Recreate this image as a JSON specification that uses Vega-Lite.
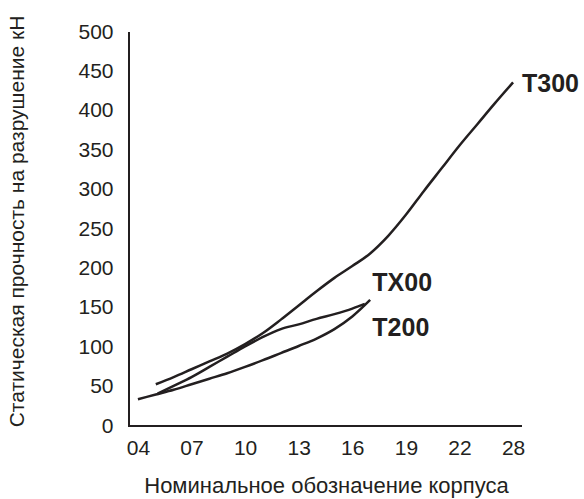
{
  "$schema": "https://vega.github.io/schema/vega-lite/v6.json",
  "autosize": {"type": "none"},
  "padding": {"left": 129, "top": 32, "right": 62, "bottom": 73},
  "width": 393,
  "height": 394,
  "background": "white",
  "config": {
    "view": {"stroke": null},
    "font": "Liberation Sans"
  },
  "datasets": {
    "lines": [
      {"series": "frame", "x": 3.5, "y": 500, "o": 1},
      {"series": "frame", "x": 3.5, "y": 0, "o": 2},
      {"series": "frame", "x": 25.5, "y": 0, "o": 3},
      {"series": "T300", "x": 5, "y": 53, "o": 1},
      {"series": "T300", "x": 6, "y": 62, "o": 2},
      {"series": "T300", "x": 7, "y": 72, "o": 3},
      {"series": "T300", "x": 8, "y": 82, "o": 4},
      {"series": "T300", "x": 9, "y": 92, "o": 5},
      {"series": "T300", "x": 10, "y": 104, "o": 6},
      {"series": "T300", "x": 11, "y": 118, "o": 7},
      {"series": "T300", "x": 12, "y": 135, "o": 8},
      {"series": "T300", "x": 13, "y": 153, "o": 9},
      {"series": "T300", "x": 14, "y": 171, "o": 10},
      {"series": "T300", "x": 15, "y": 188, "o": 11},
      {"series": "T300", "x": 16, "y": 203, "o": 12},
      {"series": "T300", "x": 17, "y": 219, "o": 13},
      {"series": "T300", "x": 18, "y": 241, "o": 14},
      {"series": "T300", "x": 19, "y": 268, "o": 15},
      {"series": "T300", "x": 20, "y": 298, "o": 16},
      {"series": "T300", "x": 21, "y": 327, "o": 17},
      {"series": "T300", "x": 22, "y": 356, "o": 18},
      {"series": "T300", "x": 23, "y": 383, "o": 19},
      {"series": "T300", "x": 24, "y": 410, "o": 20},
      {"series": "T300", "x": 25, "y": 436, "o": 21},
      {"series": "TX00", "x": 5.1, "y": 41, "o": 1},
      {"series": "TX00", "x": 6, "y": 51, "o": 2},
      {"series": "TX00", "x": 7, "y": 62, "o": 3},
      {"series": "TX00", "x": 8, "y": 75, "o": 4},
      {"series": "TX00", "x": 9, "y": 88, "o": 5},
      {"series": "TX00", "x": 10, "y": 101, "o": 6},
      {"series": "TX00", "x": 11, "y": 113, "o": 7},
      {"series": "TX00", "x": 12, "y": 123, "o": 8},
      {"series": "TX00", "x": 13, "y": 129, "o": 9},
      {"series": "TX00", "x": 14, "y": 136, "o": 10},
      {"series": "TX00", "x": 15, "y": 142, "o": 11},
      {"series": "TX00", "x": 16, "y": 149, "o": 12},
      {"series": "TX00", "x": 16.7, "y": 155, "o": 13},
      {"series": "T200", "x": 4, "y": 34, "o": 1},
      {"series": "T200", "x": 5, "y": 40, "o": 2},
      {"series": "T200", "x": 6, "y": 46, "o": 3},
      {"series": "T200", "x": 7, "y": 53, "o": 4},
      {"series": "T200", "x": 8, "y": 60, "o": 5},
      {"series": "T200", "x": 9, "y": 67, "o": 6},
      {"series": "T200", "x": 10, "y": 75, "o": 7},
      {"series": "T200", "x": 11, "y": 83.5, "o": 8},
      {"series": "T200", "x": 12, "y": 92.5, "o": 9},
      {"series": "T200", "x": 13, "y": 101.5, "o": 10},
      {"series": "T200", "x": 14, "y": 111, "o": 11},
      {"series": "T200", "x": 15, "y": 123, "o": 12},
      {"series": "T200", "x": 16, "y": 139, "o": 13},
      {"series": "T200", "x": 17, "y": 160, "o": 14}
    ],
    "xticks": [
      {"x": 4, "major": true}, {"x": 5, "major": false}, {"x": 6, "major": false},
      {"x": 7, "major": true}, {"x": 8, "major": false}, {"x": 9, "major": false},
      {"x": 10, "major": true}, {"x": 11, "major": false}, {"x": 12, "major": false},
      {"x": 13, "major": true}, {"x": 14, "major": false}, {"x": 15, "major": false},
      {"x": 16, "major": true}, {"x": 17, "major": false}, {"x": 18, "major": false},
      {"x": 19, "major": true}, {"x": 20, "major": false}, {"x": 21, "major": false},
      {"x": 22, "major": true}, {"x": 23, "major": false}, {"x": 24, "major": false},
      {"x": 25, "major": true}
    ],
    "yticks": [
      {"y": 50}, {"y": 100}, {"y": 150}, {"y": 200}, {"y": 250},
      {"y": 300}, {"y": 350}, {"y": 400}, {"y": 450}, {"y": 500}
    ],
    "labels": [
      {"label": "T300", "x": 25.5, "y": 434},
      {"label": "TX00", "x": 17.12, "y": 182},
      {"label": "T200", "x": 17.12, "y": 125}
    ]
  },
  "encoding": {
    "x": {
      "field": "x", "type": "quantitative",
      "scale": {"domain": [3.5, 25.5], "nice": false, "zero": false},
      "axis": {
        "orient": "bottom",
        "values": [4,7,10,13,16,19,22,25],
        "labelExpr": "datum.value == 25 ? '28' : (datum.value < 10 ? '0' + datum.value : '' + datum.value)",
        "grid": false,
        "domain": false,
        "ticks": false,
        "labelColor": "#231f20",
        "labelFontSize": 21,
        "labelPadding": 11,
        "labelOverlap": false,
        "title": "Номинальное обозначение корпуса",
        "titleColor": "#231f20",
        "titleFontWeight": "normal",
        "titleFontSize": 22,
        "titleX": 197,
        "titleY": 59,
        "titleBaseline": "middle",
        "titleAlign": "center"
      }
    },
    "y": {
      "field": "y", "type": "quantitative",
      "scale": {"domain": [0, 500], "nice": false},
      "axis": {
        "orient": "left",
        "values": [0,50,100,150,200,250,300,350,400,450,500],
        "grid": false,
        "domain": false,
        "ticks": false,
        "labelColor": "#231f20",
        "labelFontSize": 21,
        "labelPadding": 16,
        "labelOverlap": false,
        "title": "Статическая прочность на разрушение кН",
        "titleColor": "#231f20",
        "titleFontWeight": "normal",
        "titleFontSize": 21,
        "titleX": -112,
        "titleY": 189,
        "titleAngle": -90,
        "titleAlign": "center",
        "titleBaseline": "middle"
      }
    }
  },
  "layer": [
    {
      "data": {"name": "lines"},
      "transform": [{"filter": "datum.series == 'frame'"}],
      "mark": {"type": "line", "color": "#231f20", "strokeWidth": 2, "clip": false},
      "encoding": {"order": {"field": "o", "type": "quantitative"}}
    },
    {
      "data": {"name": "xticks"},
      "mark": {"type": "tick", "orient": "vertical", "size": 10, "thickness": 2, "yOffset": -5, "color": "#231f20", "opacity": 1},
      "encoding": {"y": {"datum": 0}}
    },
    {
      "data": {"name": "yticks"},
      "mark": {"type": "tick", "orient": "horizontal", "size": 9, "thickness": 2, "xOffset": 4.5, "color": "#231f20", "opacity": 1},
      "encoding": {"x": {"datum": 3.5}}
    },
    {
      "data": {"name": "lines"},
      "transform": [{"filter": "datum.series != 'frame'"}],
      "mark": {"type": "line", "interpolate": "monotone", "color": "#231f20", "strokeWidth": 2.5, "clip": false},
      "encoding": {"detail": {"field": "series"}}
    },
    {
      "data": {"name": "labels"},
      "mark": {"type": "text", "align": "left", "baseline": "middle", "fontWeight": "bold", "fontSize": 25, "color": "#231f20", "font": "Liberation Sans"},
      "encoding": {"text": {"field": "label"}}
    }
  ]
}
